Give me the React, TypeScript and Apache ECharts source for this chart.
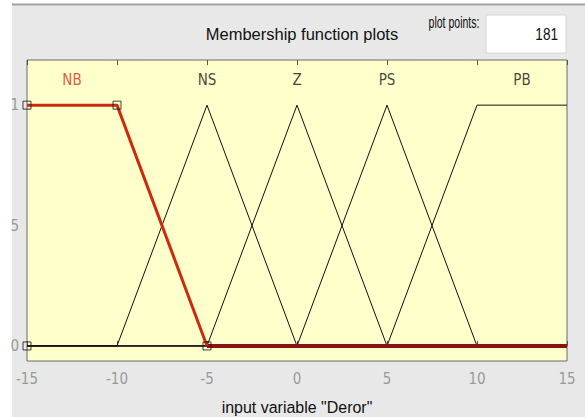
import React, { useEffect, useRef } from "react";
import * as echarts from "echarts";

const xMin = -15;
const xMax = 15;
const yTicks = [0, 0.5, 1];
const yTickLabels = ["0", "5", "1"];
const mfNames = ["NB", "NS", "Z", "PS", "PB"];
const mfLabelX = [-12.5, -5, 0, 5, 12.5];
const mfLabelY = 1.104;
// trapezoid params [a, b, c, d]; triangles have b === c
const nbParams = [-15, -15, -10, -5];
const nsParams = [-10, -5, -5, 0];
const zParams = [-5, 0, 0, 5];
const psParams = [0, 5, 5, 10];
const pbParams = [5, 10, 15, 15];
const selectedMarkers = [
  [-15, 1],
  [-10, 1],
  [-5, 0],
  [-15, 0],
];
const plotPoints = "181";

const FONT = "'Liberation Sans Narrow', 'DejaVu Sans Condensed', 'Arial Narrow', sans-serif";
const TFONT = "'Liberation Sans', Arial, sans-serif";

function trapPoints(p: number[]) {
  const [a, b, c, d] = p;
  const pts: number[][] = [];
  if (a > xMin) pts.push([xMin, 0]);
  pts.push([a, a === b ? 1 : 0]);
  pts.push([b, 1]);
  pts.push([c, 1]);
  pts.push([d, d === c ? 1 : 0]);
  if (d < xMax) pts.push([xMax, 0]);
  return pts;
}

export default function App() {
  const ref = useRef<HTMLDivElement>(null);
  useEffect(() => {
    if (!ref.current) return;
    const chart = echarts.init(ref.current, null, { renderer: "svg" });
    const blackMfs = [nsParams, zParams, psParams, pbParams];
    const nb = trapPoints(nbParams);
    const nbUpper = nb.filter((p) => p[0] <= nbParams[3]);
    const nbZero = nb.filter((p) => p[0] >= nbParams[3]);
    const series: any[] = blackMfs.map((p) => ({
      type: "line",
      data: trapPoints(p),
      symbol: "none",
      lineStyle: { color: "#111", width: 1 },
      z: 2,
    }));
    series.push({
      type: "line",
      data: nbZero,
      symbol: "none",
      lineStyle: { color: "#8a1212", width: 4 },
      z: 3,
    });
    series.push({
      type: "line",
      data: nbUpper,
      symbol: "none",
      lineStyle: { color: "#cc2a0e", width: 3 },
      z: 4,
    });
    series.push({
      type: "scatter",
      data: selectedMarkers,
      symbol: "rect",
      symbolSize: 8,
      clip: true,
      itemStyle: { color: "rgba(0,0,0,0)", borderColor: "#111", borderWidth: 1 },
      z: 5,
    });
    series.push({
      type: "scatter",
      data: mfLabelX.map((x, i) => ({
        value: [x, mfLabelY],
        name: mfNames[i],
        label: i === 0 ? { color: "#e0281a" } : undefined,
      })),
      symbolSize: 0,
      label: {
        show: true,
        position: "inside",
        formatter: (p: any) => p.name,
        fontFamily: FONT,
        fontSize: 15,
        color: "#111",
      },
      z: 6,
    });

    const txt = (text: string, x: number, y: number, size: number, align: string, sx: number) => ({
      type: "text",
      x,
      y,
      scaleX: sx,
      style: { text, font: `${size}px ${TFONT}`, fill: "#111", align, verticalAlign: "middle" },
    });

    chart.setOption({
      animation: false,
      backgroundColor: "#ffffff",
      graphic: [
        { type: "rect", shape: { x: 12, y: 4, width: 573, height: 413 }, style: { fill: "#e8e8e8" }, z: -10 },
        { type: "line", shape: { x1: 12, y1: 4.5, x2: 585, y2: 4.5 }, style: { stroke: "#a0a0a0", lineWidth: 2 }, z: -9 },
        { type: "rect", shape: { x: 486, y: 15, width: 80, height: 38 }, style: { fill: "#ffffff", stroke: "#d4d4d4", lineWidth: 1 } },
        txt(plotPoints, 558, 34, 17, "right", 0.8),
        txt("plot points:", 454, 22, 17, "center", 0.62),
        txt("Membership function plots", 302, 34, 17, "center", 0.97),
        txt('input variable "Deror"', 297, 407, 17, "center", 0.94),
      ],
      grid: {
        left: 27,
        top: 60,
        right: 18,
        bottom: 56,
        show: true,
        backgroundColor: "#ffffcc",
        borderColor: "#6a6a6a",
        borderWidth: 1,
      },
      xAxis: [
        {
          type: "value",
          min: xMin,
          max: xMax,
          interval: 5,
          axisLine: { show: false },
          splitLine: { show: false },
          axisTick: { show: true, inside: true, length: 5, lineStyle: { color: "#555" } },
          axisLabel: { color: "#9a9a9a", fontSize: 15, fontFamily: FONT, margin: 10 },
        },
        {
          type: "value",
          position: "top",
          min: xMin,
          max: xMax,
          interval: 5,
          axisLine: { show: false },
          splitLine: { show: false },
          axisTick: { show: true, inside: true, length: 5, lineStyle: { color: "#555" } },
          axisLabel: { show: false },
        },
      ],
      yAxis: {
        type: "value",
        min: -0.0625,
        max: 1.1875,
        axisLine: { show: false },
        splitLine: { show: false },
        axisTick: { show: false },
        axisLabel: {
          customValues: yTicks,
          color: "#9a9a9a",
          fontSize: 15,
          fontFamily: FONT,
          margin: 8,
          formatter: (v: number) => yTickLabels[yTicks.indexOf(v)] ?? "",
        },
      },
      series,
    });
    return () => chart.dispose();
  }, []);
  return (
    <div
      ref={ref}
      style={{ position: "fixed", left: 0, top: 0, width: 585, height: 417 }}
    />
  );
}
